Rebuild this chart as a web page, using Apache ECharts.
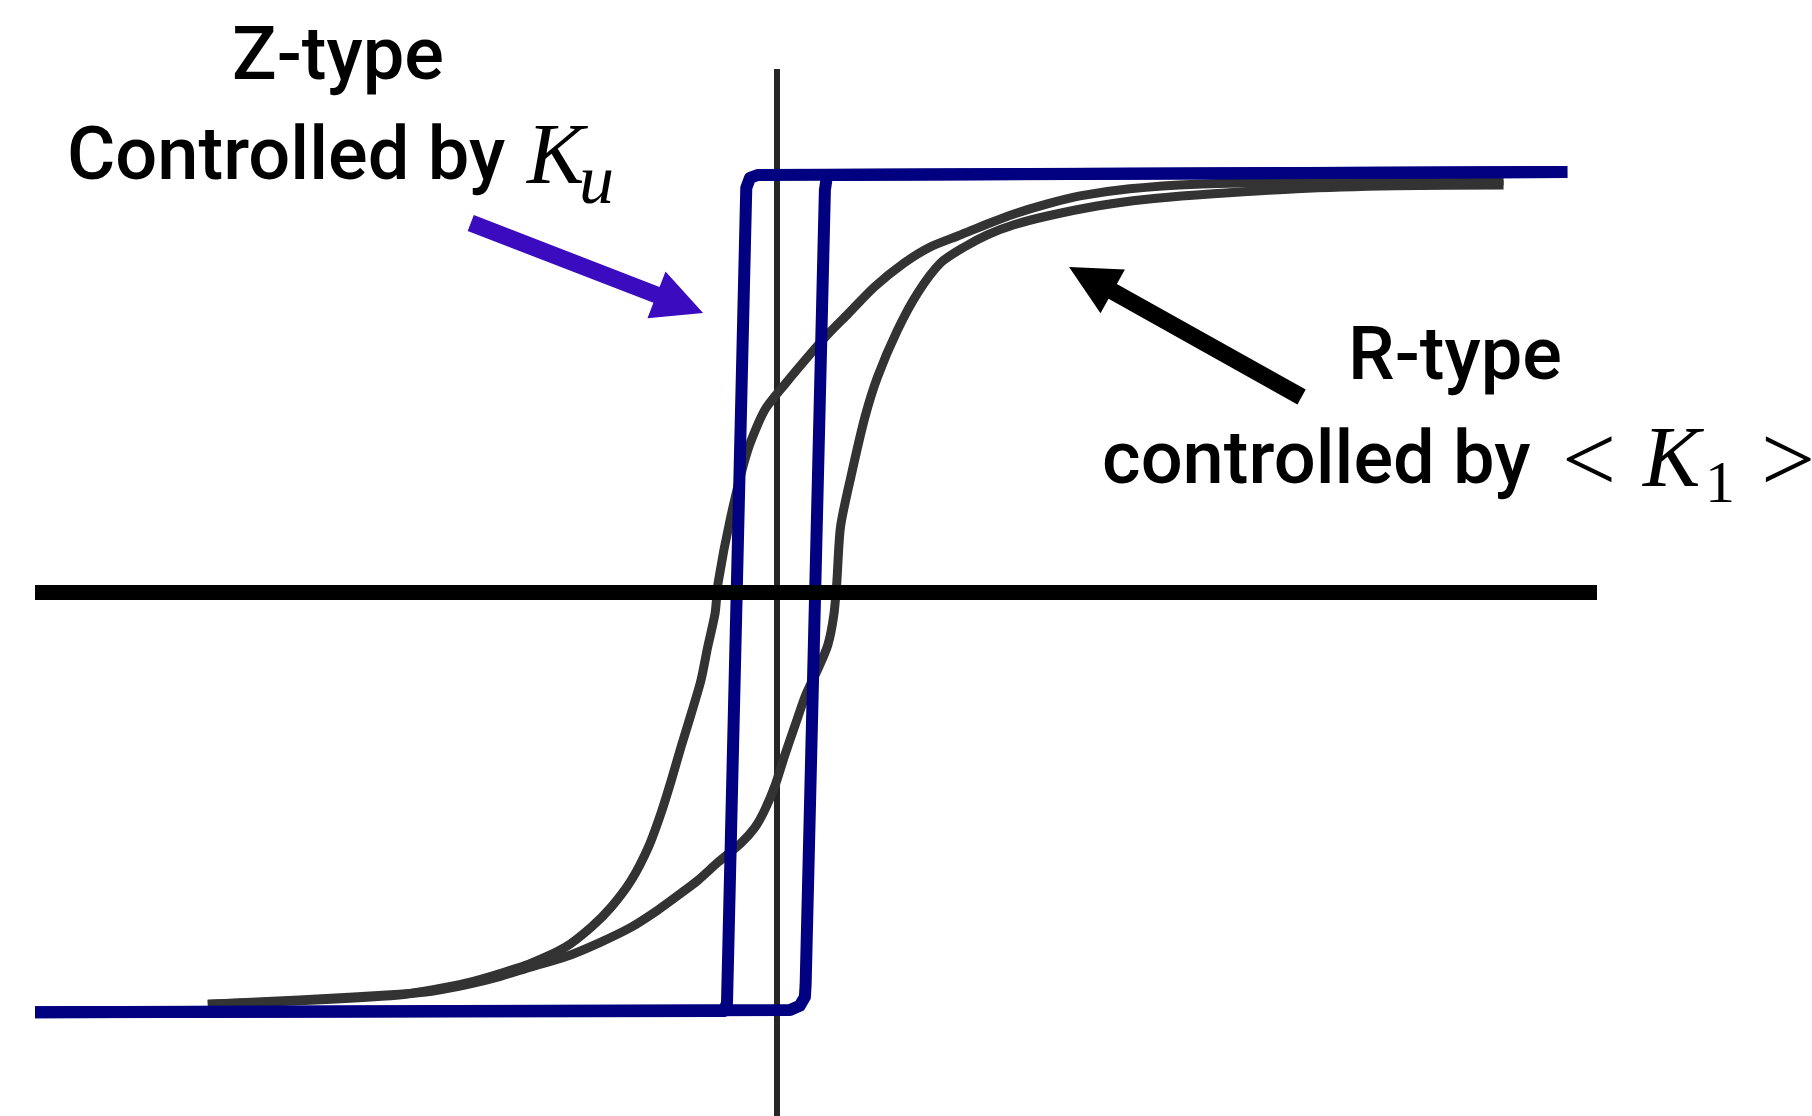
<!DOCTYPE html>
<html>
<head>
<meta charset="utf-8">
<title>Z-type / R-type hysteresis loops</title>
<script src="https://cdn.jsdelivr.net/npm/echarts@6/dist/echarts.min.js"></script>
<style>
    html, body { margin: 0; padding: 0; background: #fff; }
    #loops { width: 1812px; height: 1116px; }
</style>
</head>
<body>
<div id="loops"></div>
<script>
/* ------------------------------------------------------------------------------
 *
 *  # Hysteresis loops - Z-type (Ku) vs R-type (<K1>)
 *
 *  Field H and magnetisation M in reduced units (saturation = 1)
 *
 * ---------------------------------------------------------------------------- */

// R-type loop, descending branch (+H -> -H)
var rDescH = [0.980, 0.835, 0.701, 0.566, 0.476, 0.409, 0.365, 0.320, 0.284, 0.248,
              0.207, 0.172, 0.132, 0.096, 0.072, 0.051, 0.011, -0.016, -0.039, -0.062,
              -0.079, -0.083, -0.093, -0.102, -0.115, -0.129, -0.142, -0.156, -0.173, -0.196,
              -0.223, -0.250, -0.285, -0.331, -0.375, -0.419, -0.465, -0.509, -0.644, -0.767];
var rDescM = [0.983, 0.983, 0.980, 0.975, 0.964, 0.947, 0.928, 0.904, 0.880, 0.854,
              0.825, 0.787, 0.730, 0.665, 0.622, 0.581, 0.497, 0.436, 0.340, 0.180,
              0.023, -0.049, -0.130, -0.209, -0.288, -0.369, -0.448, -0.527, -0.608, -0.687,
              -0.751, -0.799, -0.847, -0.885, -0.911, -0.933, -0.949, -0.961, -0.975, -0.983];

// R-type loop, ascending branch (-H -> +H)
var rAscH = [-0.767, -0.644, -0.509, -0.465, -0.419, -0.375, -0.331, -0.285, -0.240, -0.196,
             -0.160, -0.129, -0.106, -0.079, -0.048, -0.029, -0.016, -0.002, 0.011, 0.025,
             0.039, 0.055, 0.069, 0.077, 0.081, 0.086, 0.100, 0.119, 0.136, 0.163,
             0.190, 0.221, 0.253, 0.284, 0.320, 0.365, 0.432, 0.499, 0.566, 0.701,
             0.835, 0.980];
var rAscM = [-0.983, -0.973, -0.959, -0.952, -0.937, -0.918, -0.894, -0.870, -0.837, -0.799,
             -0.758, -0.718, -0.687, -0.644, -0.598, -0.560, -0.519, -0.460, -0.388, -0.316,
             -0.245, -0.185, -0.125, -0.054, 0.023, 0.156, 0.276, 0.419, 0.515, 0.627,
             0.715, 0.787, 0.825, 0.854, 0.878, 0.899, 0.923, 0.939, 0.949, 0.964,
             0.971, 0.973];

// Z-type loop (square), both branches
var zDescH = [1.066, -0.025, -0.036, -0.041, -0.067, -0.071, -1.000];
var zDescM = [1.004, 0.997, 0.990, 0.966, -0.980, -0.999, -1.002];
var zAscH = [-1.000, 0.018, 0.031, 0.038, 0.039, 0.065, 0.068, 1.066];
var zAscM = [-1.002, -0.997, -0.987, -0.966, -0.937, 0.961, 0.997, 1.004];

// Annotation arrows, [tail, tip] in (H, M)
var zArrow = [[-0.4125, 0.8823], [-0.0992, 0.6674]];
var rArrow = [[0.7077, 0.4668], [0.3942, 0.7772]];


// Helpers
// ------------------------------

var zip = function(h, m) {
    return h.map(function(v, i) { return [v, m[i]]; });
};

// Block arrow outline from tail to tip (pixels)
var arrowPoints = function(tail, tip, shaft, headW, headL) {
    var dx = tip[0] - tail[0], dy = tip[1] - tail[1];
    var len = Math.sqrt(dx * dx + dy * dy);
    var ux = dx / len, uy = dy / len;
    var nx = -uy, ny = ux;
    var bx = tip[0] - ux * headL, by = tip[1] - uy * headL;
    return [
        [tail[0] + nx * shaft / 2, tail[1] + ny * shaft / 2],
        [bx + nx * shaft / 2, by + ny * shaft / 2],
        [bx + nx * headW / 2, by + ny * headW / 2],
        [tip[0], tip[1]],
        [bx - nx * headW / 2, by - ny * headW / 2],
        [bx - nx * shaft / 2, by - ny * shaft / 2],
        [tail[0] - nx * shaft / 2, tail[1] - ny * shaft / 2]
    ];
};

var loopLine = function(name, data, color, width, z, smooth) {
    return {
        name: name,
        type: 'line',
        data: data,
        symbol: 'none',
        smooth: smooth,
        z: z,
        lineStyle: { color: color, width: width, join: 'round', cap: 'butt' }
    };
};


// Chart
// ------------------------------

var chart = echarts.init(document.getElementById('loops'));

chart.setOption({
    backgroundColor: '#fff',
    animation: false,
    grid: { left: 35, right: 215, top: 69, bottom: 0 },
    xAxis: {
        type: 'value',
        min: -1,
        max: 1.106,
        z: 10,
        axisLine: { onZero: true, lineStyle: { color: '#000', width: 15, cap: 'butt' } },
        axisTick: { show: false },
        axisLabel: { show: false },
        splitLine: { show: false }
    },
    yAxis: {
        type: 'value',
        min: -1.25,
        max: 1.25,
        axisLine: { onZero: true, lineStyle: { color: '#262626', width: 6, cap: 'butt' } },
        axisTick: { show: false },
        axisLabel: { show: false },
        splitLine: { show: false }
    },
    series: [
        loopLine('R-type descending', zip(rDescH, rDescM), '#333333', 9, 3, 0.25),
        loopLine('R-type ascending', zip(rAscH, rAscM), '#333333', 9, 3, 0.25),
        loopLine('Z-type descending', zip(zDescH, zDescM), '#000080', 12, 4, false),
        loopLine('Z-type ascending', zip(zAscH, zAscM), '#000080', 12, 4, false)
    ]
});

// Arrows positioned through the axes
var toPx = function(p) { return chart.convertToPixel({ gridIndex: 0 }, p); };

var labelFont = '500 74px Roboto';
var mathFont = 'italic 86px "Liberation Serif"';
var relFont = '96px "Liberation Serif"';

chart.setOption({
    graphic: [
        {
            type: 'polygon',
            shape: { points: arrowPoints(toPx(zArrow[0]), toPx(zArrow[1]), 17, 50, 50) },
            style: { fill: '#3b0cbf' },
            z: 20
        },
        {
            type: 'polygon',
            shape: { points: arrowPoints(toPx(rArrow[0]), toPx(rArrow[1]), 17, 50, 50) },
            style: { fill: '#000' },
            z: 20
        },
        // Z-type label
        { type: 'text', x: 338, y: 60, z: 20,
          style: { text: 'Z-type', font: labelFont, fill: '#000', align: 'center', verticalAlign: 'middle' } },
        { type: 'text', x: 67, y: 160, z: 20,
          style: { text: 'Controlled by', font: labelFont, fill: '#000', align: 'left', verticalAlign: 'middle' } },
        { type: 'text', x: 527, y: 160, z: 20,
          style: { text: 'K', font: mathFont, fill: '#000', align: 'left', verticalAlign: 'middle' } },
        { type: 'text', x: 579, y: 185, z: 20,
          style: { text: 'u', font: 'italic 70px "Liberation Serif"', fill: '#000', align: 'left', verticalAlign: 'middle' } },
        // R-type label
        { type: 'text', x: 1455, y: 360, z: 20,
          style: { text: 'R-type', font: labelFont, fill: '#000', align: 'center', verticalAlign: 'middle' } },
        { type: 'text', x: 1102, y: 464, z: 20,
          style: { text: 'controlled by', font: labelFont, fill: '#000', align: 'left', verticalAlign: 'middle' } },
        { type: 'text', x: 1589, y: 466, z: 20,
          style: { text: '<', font: relFont, fill: '#000', align: 'center', verticalAlign: 'middle' } },
        { type: 'text', x: 1643, y: 463, z: 20,
          style: { text: 'K', font: mathFont, fill: '#000', align: 'left', verticalAlign: 'middle' } },
        { type: 'text', x: 1705, y: 486, z: 20,
          style: { text: '1', font: '60px "Liberation Serif"', fill: '#000', align: 'left', verticalAlign: 'middle' } },
        { type: 'text', x: 1788, y: 466, z: 20,
          style: { text: '>', font: relFont, fill: '#000', align: 'center', verticalAlign: 'middle' } }
    ]
});

window.onresize = function() { chart.resize(); };
</script>
</body>
</html>
